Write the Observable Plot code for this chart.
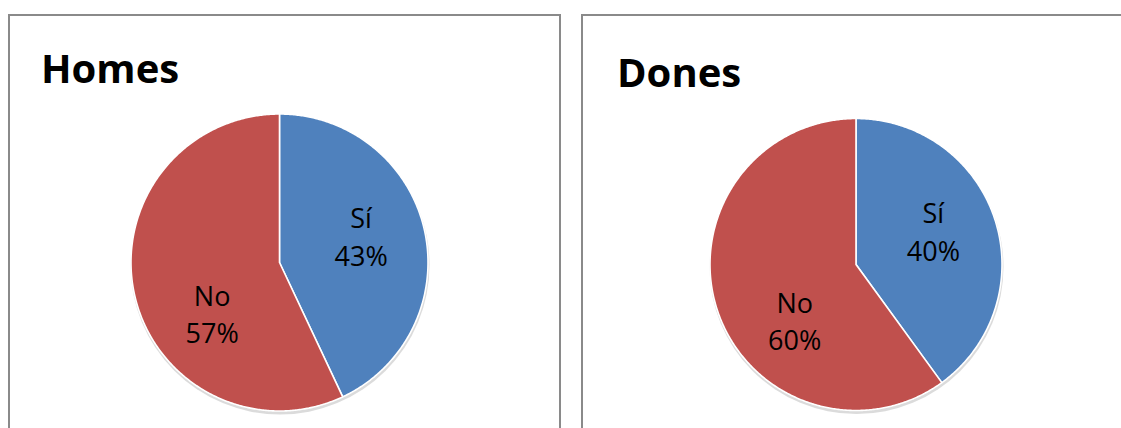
<!DOCTYPE html>
<html>
<head>
<meta charset="utf-8">
<script src="https://cdn.jsdelivr.net/npm/d3@7"></script>
<script src="https://cdn.jsdelivr.net/npm/@observablehq/plot@0.6"></script>
<style>
  html, body { margin: 0; padding: 0; background: #fff; overflow: hidden; width: 1121px; height: 428px; }
  .panel { position: absolute; border: 2px solid #8a8a8a; background: #fff; box-sizing: border-box; }
  .title { position: absolute; font-family: "Open Sans", sans-serif; font-weight: 700; font-size: 40px; color: #000; line-height: 1; white-space: nowrap; }
  .chart { position: absolute; }
</style>
</head>
<body>
<script>
// ---- data ----
const categories = ["Sí", "No"];
const homesValues = [43, 57];
const donesValues = [40, 60];
const chartTitles = ["Homes", "Dones"];
const sliceColors = ["#4F81BD", "#C0504D"];

function pie(values, radiusPx, cx, cy, w, h) {
  const total = d3.sum(values);
  let acc = 0;
  const wedgePts = [];
  const labels = [];
  values.forEach((v, i) => {
    const a0 = acc / total * 2 * Math.PI;
    acc += v;
    const a1 = acc / total * 2 * Math.PI;
    const pts = [{x: 0, y: 0, cat: categories[i]}];
    const n = Math.max(2, Math.ceil((a1 - a0) / (Math.PI / 360)));
    for (let k = 0; k <= n; k++) {
      const a = a0 + (a1 - a0) * k / n;
      pts.push({x: Math.sin(a), y: Math.cos(a), cat: categories[i]});
    }
    pts.push({x: 0, y: 0, cat: categories[i]});
    wedgePts.push(...pts);
    const frac = v / total;
    const mid = (a0 + a1) / 2 - (frac > 0.5 ? 24 : 6) * Math.PI / 180;
    const rf = frac > 0.5 ? 0.565 : 0.58;
    labels.push({x: rf * Math.sin(mid), y: rf * Math.cos(mid), text: `${categories[i]}\n${Math.round(frac * 100)}%`});
  });
  return Plot.plot({
    width: w, height: h, margin: 0,
    x: {domain: [-1, 1], range: [cx - radiusPx, cx + radiusPx], axis: null},
    y: {domain: [-1, 1], range: [cy + radiusPx, cy - radiusPx], axis: null},
    color: {domain: categories, range: sliceColors},
    style: {background: "transparent", overflow: "visible"},
    marks: [
      Plot.dot([{x: 0, y: 0}], {x: "x", y: "y", r: radiusPx + 1, fill: "#bdbdbd", fillOpacity: 0.55, stroke: "none", dy: 2.5, dx: 0.5}),
      Plot.line(wedgePts, {x: "x", y: "y", z: "cat", fill: "cat", stroke: "#fff", strokeWidth: 1.6, curve: "linear", strokeLinejoin: "round"}),
      Plot.text(labels, {x: "x", y: "y", text: "text", fontSize: 27, lineHeight: 1.38, fill: "#000", fontFamily: "Open Sans, sans-serif", textAnchor: "middle", frameAnchor: "middle"})
    ]
  });
}

function addPanel(left, top, width, height, title, titleLeft, titleTop, values, cx, cy, r) {
  const p = document.createElement("div");
  p.className = "panel";
  Object.assign(p.style, {left: left + "px", top: top + "px", width: width + "px", height: height + "px"});
  document.body.appendChild(p);
  const chart = pie(values, r, cx, cy, width, height);
  chart.classList.add("chart");
  chart.style.left = left + "px";
  chart.style.top = top + "px";
  document.body.appendChild(chart);
  const t = document.createElement("div");
  t.className = "title";
  t.textContent = title;
  t.style.left = titleLeft + "px";
  t.style.top = titleTop + "px";
  document.body.appendChild(t);
}

addPanel(8, 14, 553, 430, chartTitles[0], 41, 48, homesValues, 271, 248, 148.5);
addPanel(581, 14, 560, 430, chartTitles[1], 617, 52, donesValues, 274.5, 250, 146);
</script>
</body>
</html>
